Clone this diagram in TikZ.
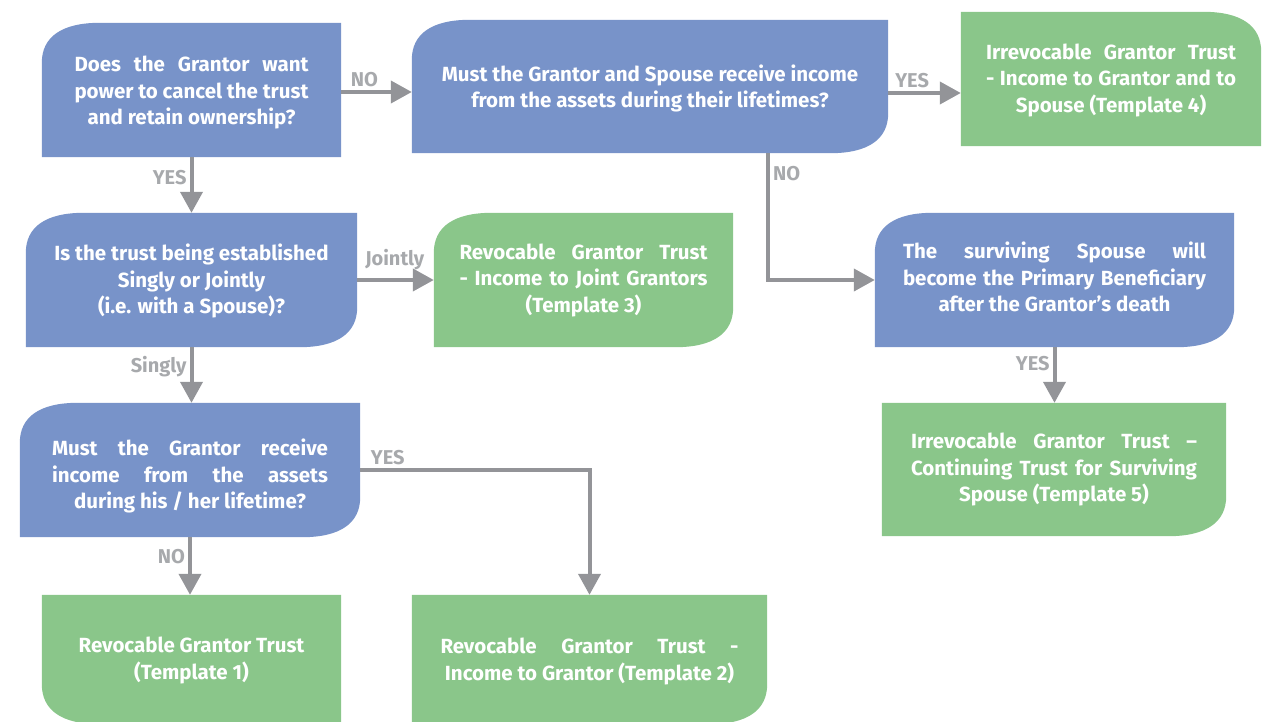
\documentclass[tikz,border=0pt]{standalone}
\usepackage{fontspec}
\setmainfont{Fira Sans}[BoldFont={Fira Sans Bold}]
\usetikzlibrary{arrows.meta,calc}
\pgfdeclarelayer{background}
\pgfsetlayers{background,main}

\definecolor{qblue}{HTML}{7893C9}
\definecolor{tgreen}{HTML}{8AC68A}
\definecolor{linkgray}{HTML}{939498}
\definecolor{labelgray}{HTML}{A7A9AC}

% corner size of the rounded card corners
\def\crx{58pt}
\def\cry{40pt}
\def\ckx{20pt}
\def\cky{14pt}

% rounded corners, traversed clockwise (NW -> NE -> SE -> SW)
\newcommand\cNW[1]{([yshift=-\cry]#1.north west) .. controls ([yshift=-\cky]#1.north west) and ([xshift=\ckx]#1.north west) .. ([xshift=\crx]#1.north west)}
\newcommand\cNE[1]{([xshift=-\crx]#1.north east) .. controls ([xshift=-\ckx]#1.north east) and ([yshift=-\cky]#1.north east) .. ([yshift=-\cry]#1.north east)}
\newcommand\cSE[1]{([yshift=\cry]#1.south east) .. controls ([yshift=\cky]#1.south east) and ([xshift=-\ckx]#1.south east) .. ([xshift=-\crx]#1.south east)}
\newcommand\cSW[1]{([xshift=\crx]#1.south west) .. controls ([xshift=\ckx]#1.south west) and ([yshift=\cky]#1.south west) .. ([yshift=\cry]#1.south west)}

% a justified text line of a given width
\newcommand\jl[2]{\hbox to #1{#2}}

\tikzset{
  card/.style={shape=rectangle, inner sep=0pt},
  cardtext/.style={inner sep=0pt, align=center, text=white,
    font=\fontsize{20.5}{26.5}\selectfont\bfseries},
  conn/.style={draw=linkgray, line width=4pt, -{Triangle[width=22pt,length=21pt]}},
  lbl/.style={text=labelgray, inner sep=3pt, font=\fontsize{20}{20}\selectfont\bfseries},
}

\begin{document}
\begin{tikzpicture}[x=1pt,y=-1pt]
\useasboundingbox (0,0) rectangle (1264,721);
\clip (0,0) rectangle (1264,721);

% card outlines (named, for the connectors)
\node[card, minimum width=299pt, minimum height=134pt] (q1) at (191.5,90) {};
\node[card, minimum width=476pt, minimum height=133pt] (q2) at (650,86.5) {};
\node[card, minimum width=300pt, minimum height=134pt] (g4) at (1111,79) {};
\node[card, minimum width=331pt, minimum height=134pt] (q3) at (191.5,280) {};
\node[card, minimum width=299pt, minimum height=134pt] (g3) at (583.5,280) {};
\node[card, minimum width=359pt, minimum height=134pt] (q5) at (1054.5,280) {};
\node[card, minimum width=340pt, minimum height=134pt] (q4) at (190,470) {};
\node[card, minimum width=344pt, minimum height=133pt] (g5) at (1054,469.5) {};
\node[card, minimum width=299pt, minimum height=129pt] (g1) at (191.5,659.5) {};
\node[card, minimum width=355pt, minimum height=129pt] (g2) at (589.5,659.5) {};

% card backgrounds
\begin{pgfonlayer}{background}
  \fill[qblue] \cNW{q1} -- (q1.north east) -- (q1.south east) -- (q1.south west) -- cycle;
  \fill[qblue] \cNW{q2} -- (q2.north east) -- \cSE{q2} -- (q2.south west) -- cycle;
  \fill[tgreen] (g4.north west) -- \cNE{g4} -- (g4.south east) -- (g4.south west) -- cycle;
  \fill[qblue] \cNW{q3} -- (q3.north east) -- \cSE{q3} -- (q3.south west) -- cycle;
  \fill[tgreen] \cNW{g3} -- (g3.north east) -- \cSE{g3} -- (g3.south west) -- cycle;
  \fill[qblue] \cNW{q5} -- (q5.north east) -- \cSE{q5} -- (q5.south west) -- cycle;
  \fill[qblue] \cNW{q4} -- (q4.north east) -- \cSE{q4} -- (q4.south west) -- cycle;
  \fill[tgreen] (g5.north west) -- (g5.north east) -- \cSE{g5} -- (g5.south west) -- cycle;
  \fill[tgreen] (g1.north west) -- (g1.north east) -- (g1.south east) -- \cSW{g1} -- cycle;
  \fill[tgreen] (g2.north west) -- (g2.north east) -- \cSE{g2} -- (g2.south west) -- cycle;
\end{pgfonlayer}

% card texts
\node[cardtext] (q1t) at ([yshift=-3pt]q1.center)
  {\jl{234pt}{Does\hfil the\hfil Grantor\hfil want}\\\jl{234pt}{power\hfil to\hfil cancel\hfil the\hfil trust}\\and retain ownership?};
\node[cardtext] (q2t) at ([yshift=-2pt]q2.center)
  {Must the Grantor and Spouse receive income\\from the assets during their lifetimes?};
\node[cardtext] (g4t) at ([yshift=-1pt]g4.center)
  {\jl{250pt}{Irrevocable\hfil Grantor\hfil Trust}\\\jl{250pt}{-\hfil Income\hfil to\hfil Grantor\hfil and\hfil to}\\Spouse (Template 4)};
\node[cardtext] (q3t) at ([yshift=-1pt]q3.center)
  {Is the trust being established\\Singly or Jointly\\(i.e. with a Spouse)?};
\node[cardtext] (g3t) at ([yshift=0pt]g3.center)
  {\jl{248pt}{Revocable\hfil Grantor\hfil Trust}\\\jl{248pt}{-\hfil Income\hfil to\hfil Joint\hfil Grantors}\\(Template 3)};
\node[cardtext] (q5t) at ([yshift=3pt]q5.center)
  {\jl{303pt}{The\hfil surviving\hfil Spouse\hfil will}\\\jl{303pt}{become\hfil the\hfil Primary\hfil Beneficiary}\\after the Grantor’s death};
\node[cardtext] (q4t) at ([yshift=-6pt]q4.center)
  {\jl{276pt}{Must\hfil the\hfil Grantor\hfil receive}\\\jl{276pt}{income\hfil from\hfil the\hfil assets}\\during his / her lifetime?};
\node[cardtext] (g5t) at ([yshift=0pt]g5.center)
  {\jl{286pt}{Irrevocable\hfil Grantor\hfil Trust\hfil –}\\\jl{286pt}{Continuing\hfil Trust\hfil for\hfil Surviving}\\Spouse (Template 5)};
\node[cardtext] (g1t) at ([yshift=-1pt]g1.center)
  {Revocable Grantor Trust\\(Template 1)};
\node[cardtext] (g2t) at ([yshift=-2pt]g2.center)
  {\jl{298pt}{Revocable\hfil Grantor\hfil Trust\hfil -}\\Income to Grantor (Template 2)};

% connectors
\coordinate (a1) at ([yshift=-2pt]q1.east);
\coordinate (a2) at ([yshift=-6.5pt]q2.east);
\coordinate (a3) at ([xshift=118pt]q2.south);
\draw[conn] (a1) -- node[lbl, above, pos=0.33] {NO} (a1 -| q2.west);
\draw[conn] (a2) -- node[lbl, above, pos=0.33] {YES} (a2 -| g4.west);
\draw[conn] (q1.south) -- node[lbl, left, pos=0.36] {YES} (q1.south |- q3.north);
\draw[conn] (q3.east) -- node[lbl, above, pos=0.49, yshift=5pt] {Jointly} (g3.west);
\draw[conn] (a3) |- node[lbl, right, pos=0.08] {NO} (q5.west);
\draw[conn] (q3.south) -- node[lbl, left, pos=0.34] {Singly} (q3.south |- q4.north);
\draw[conn] (q5.south) -- node[lbl, left, pos=0.3] {YES} (q5.south |- g5.north);
\draw[conn] (q4.south) -- node[lbl, left, pos=0.34] {NO} (q4.south |- g1.north);
\draw[conn] (q4.east) -| node[lbl, above, pos=0.06] {YES} (g2.north);
\end{tikzpicture}
\end{document}
